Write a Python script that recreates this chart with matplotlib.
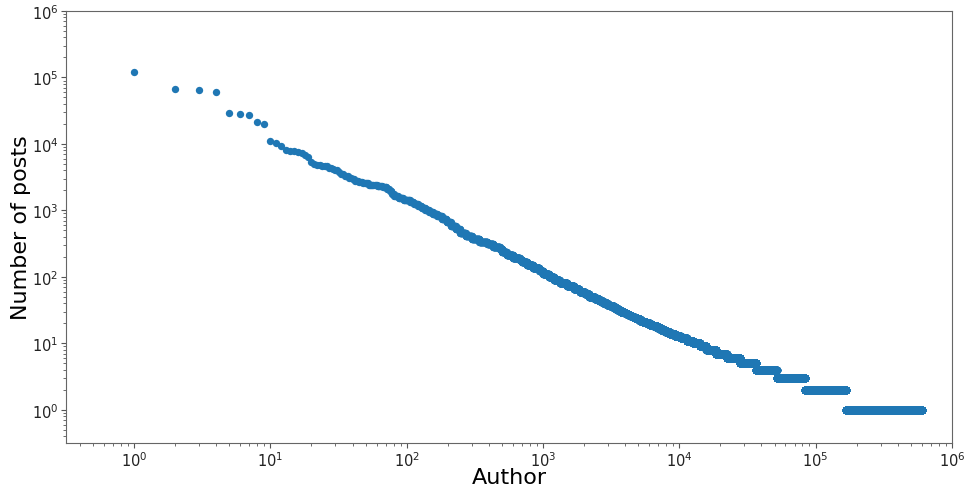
import numpy as np
import matplotlib
matplotlib.use("Agg")
import matplotlib.pyplot as plt

# Posts of the most active authors, one value per author (ranks 1-23)
top_author_posts = [120000, 67000, 65500, 60000, 28700, 28500, 27000, 21200,
                    20000, 11200, 10400, 9400, 8200, 7900, 7700, 7500, 7200,
                    6900, 6400, 5300, 5000, 4900, 4800]

# Distribution of the remaining authors: number of authors having at least
# `min_posts` posts
min_posts = [4600, 4400, 4200, 4000, 3800, 3550, 3300, 3100, 2950, 2800,
             2650, 2550, 2450, 2350, 2250, 2100, 1950, 1780, 1650, 1550,
             1450, 1350, 1250, 1180, 1100, 1020, 950, 880, 815, 740,
             663, 590, 525, 460, 410, 370, 340, 310, 280, 260,
             235, 210, 190, 180, 165, 150, 135, 122, 110, 100,
             91, 80, 72, 66, 60, 55, 50, 46, 43, 40,
             38, 36, 34, 32, 30, 29, 28, 27, 26, 25,
             24, 23, 22, 21, 20, 19, 18, 17, 16, 15,
             14, 13, 12, 11, 10, 9, 8, 7, 6, 5,
             4, 3, 2, 1]
authors_at_least = [26, 28, 29, 31, 32, 34, 37, 39, 41, 44,
                    47, 52, 60, 66, 71, 74, 77, 80, 86, 94,
                    105, 112, 120, 128, 136, 145, 155, 167, 180, 195,
                    210, 228, 245, 270, 300, 340, 390, 430, 480, 500,
                    540, 600, 673, 700, 760, 840, 940, 1000, 1100, 1200,
                    1320, 1500, 1680, 1850, 2030, 2180, 2400, 2590, 2750, 2950,
                    3100, 3300, 3500, 3700, 3950, 4080, 4220, 4370, 4530, 4700,
                    4900, 5150, 5400, 5700, 6050, 6450, 6900, 7350, 7900, 8500,
                    9300, 10200, 11300, 12600, 14100, 15800, 18600, 22200, 27800, 36400,
                    51600, 83000, 168000, 598000]

# Expand the distribution into one post count per author, ranked
n_top = len(top_author_posts)
counts = np.diff(np.concatenate([[n_top], authors_at_least]))
posts = np.concatenate([np.array(top_author_posts, dtype=float),
                        np.repeat(np.array(min_posts, dtype=float), counts)])
posts = np.sort(posts)[::-1]
rank = np.arange(1, len(posts) + 1)

fig = plt.figure(figsize=(9.64, 4.89), dpi=100)
ax = fig.add_axes([66 / 964, 45 / 489, 886 / 964, 432 / 489])
ax.scatter(rank, posts, s=28, color="#1f77b4", linewidths=0, rasterized=True)
ax.set_xscale("log")
ax.set_yscale("log")
ax.set_xlim(10 ** -0.5, 1e6)
ax.set_ylim(10 ** -0.5, 1e6)
ax.set_xlabel("Author", fontsize=16)
ax.set_ylabel("Number of posts", fontsize=16)
ax.xaxis.set_label_coords(0.5, -0.056)
ax.yaxis.set_label_coords(-0.039, 0.5)
ax.tick_params(which="both", colors="#555555", labelcolor="#222222")
ax.tick_params(which="major", labelsize=10.5, pad=2)
for sp in ax.spines.values():
    sp.set_color("#666666")

fig.savefig("out.png", dpi=100)
